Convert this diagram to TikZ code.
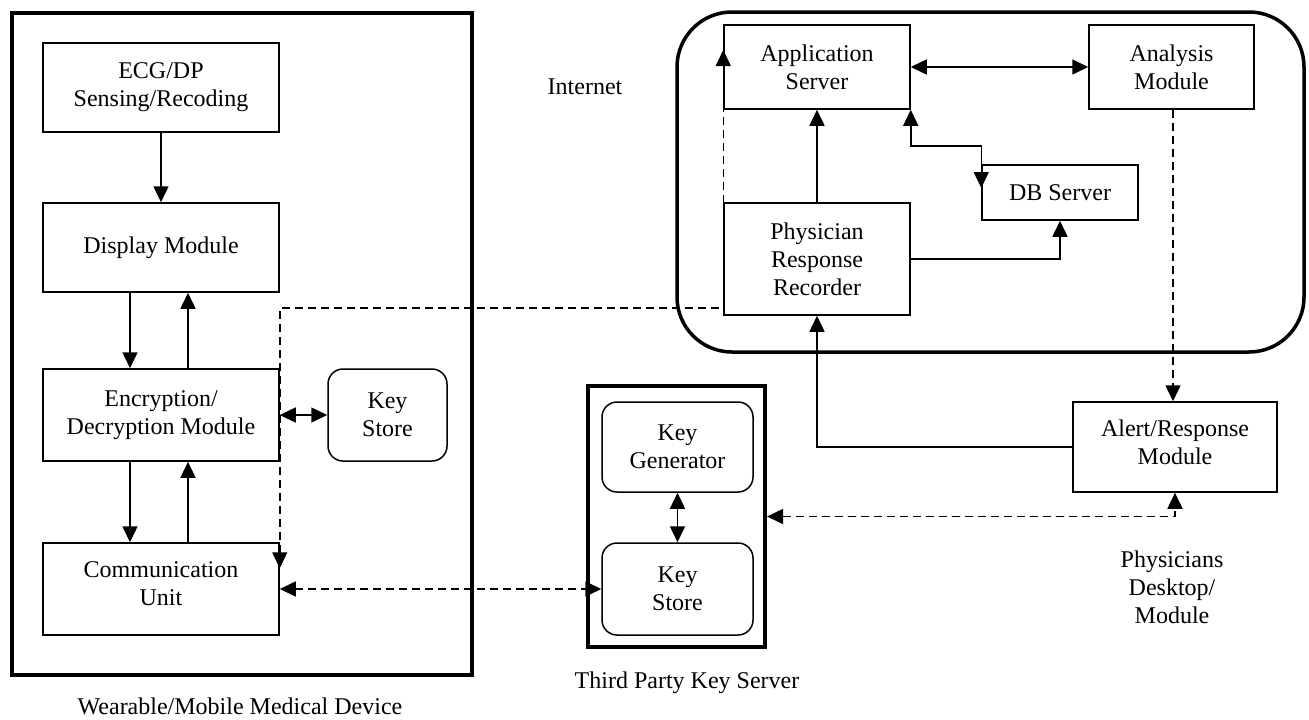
\documentclass[tikz,border=0pt]{standalone}
\usepackage{fontspec}
\setmainfont{Liberation Serif}
\usetikzlibrary{arrows.meta}
\begin{document}
\begin{tikzpicture}[x=1pt,y=-1pt,
  every node/.style={font=\fontsize{24}{28}\selectfont, align=center, inner sep=0pt},
  blk/.style={draw, line width=1.5pt, rectangle},
  rblk/.style={blk, rounded corners=15pt},
  frame/.style={draw, line width=4pt, rectangle},
  raise/.style={text depth=10pt},
  conn/.style={line width=1.5pt},
  arr/.style={conn, -{Triangle[length=16pt,width=15pt]}},
  darr/.style={conn, {Triangle[length=16pt,width=15pt]}-{Triangle[length=16pt,width=15pt]}},
  dsh/.style={dash pattern=on 8pt off 5pt}
]
\useasboundingbox (0,0) rectangle (1309,720);
% frames
\node[frame, minimum width=460, minimum height=662] (wear) at (242,344) {};
\node[draw, line width=3.5pt, rounded corners=55pt, minimum width=627, minimum height=340] (inet) at (990.5,182) {};
\node[frame, minimum width=177, minimum height=261] (tp) at (676.5,516.5) {};
% left device
\node[blk, minimum width=236, minimum height=89] (ecg) at (161,87.5) {ECG/DP\\Sensing/Recoding};
\node[blk, minimum width=236, minimum height=89] (disp) at (161,247.5) {Display Module};
\node[blk, minimum width=236, minimum height=92] (enc) at (161,415) {Encryption/\\Decryption Module};
\node[blk, raise, minimum width=236, minimum height=92] (comm) at (161,589) {Communication\\Unit};
\node[rblk, minimum width=119, minimum height=92] (ks1) at (387.5,415) {Key\\Store};
% internet
\node[blk, minimum width=186, minimum height=84] (app) at (817,67) {Application\\Server};
\node[blk, minimum width=165, minimum height=84] (ana) at (1171.5,67) {Analysis\\Module};
\node[blk, minimum width=156, minimum height=55] (db) at (1060,192.5) {DB Server};
\node[blk, minimum width=186, minimum height=112] (prr) at (817,259) {Physician\\Response\\Recorder};
% physician desktop
\node[blk, raise, minimum width=204, minimum height=90] (alert) at (1175,447) {Alert/Response\\Module};
% third party
\node[rblk, minimum width=151, minimum height=90] (kg) at (677.5,447) {Key\\Generator};
\node[rblk, minimum width=151, minimum height=92] (ks2) at (677.5,589) {Key\\Store};
% labels
\node (linet) at (585,87) {Internet};
\node (lwear) at (240,706) {Wearable/Mobile Medical Device};
\node (ltp) at (687,683) {Third Party Key Server};
\node (lphy) at (1172,587) {Physicians\\Desktop/\\Module};
% connectors left
\draw[arr] (ecg.south) -- (disp.north);
\draw[arr] ([xshift=-31]disp.south) -- ([xshift=-31]enc.north);
\draw[arr] ([xshift=27]enc.north) -- ([xshift=27]disp.south);
\draw[arr] ([xshift=-31]enc.south) -- ([xshift=-31]comm.north);
\draw[arr] ([xshift=27]comm.north) -- ([xshift=27]enc.south);
\draw[darr] (enc.east) -- (ks1.west);
\draw[darr, dsh] ([yshift=-26]comm.north east) |- ([yshift=8]prr.south west) -- ([yshift=17]app.west);
\draw[darr, dsh] (comm.east) -- (ks2.west);
\draw[darr] (kg.south) -- (ks2.north);
% internet connectors
\draw[darr] (app.east) -- (ana.west);
\draw[arr] (prr.north) -- (app.south);
\draw[darr] (app.south east) -- ++(0,36) -| ([yshift=4.5]db.west);
\draw[arr] (prr.east) -| (db.south);
\draw[arr, dsh] ([xshift=1.5]ana.south) -- ([xshift=-2]alert.north);
\draw[arr] (alert.west) -| (prr.south);
\draw[darr, dsh] (tp.east) -| (alert.south);
\end{tikzpicture}
\end{document}
